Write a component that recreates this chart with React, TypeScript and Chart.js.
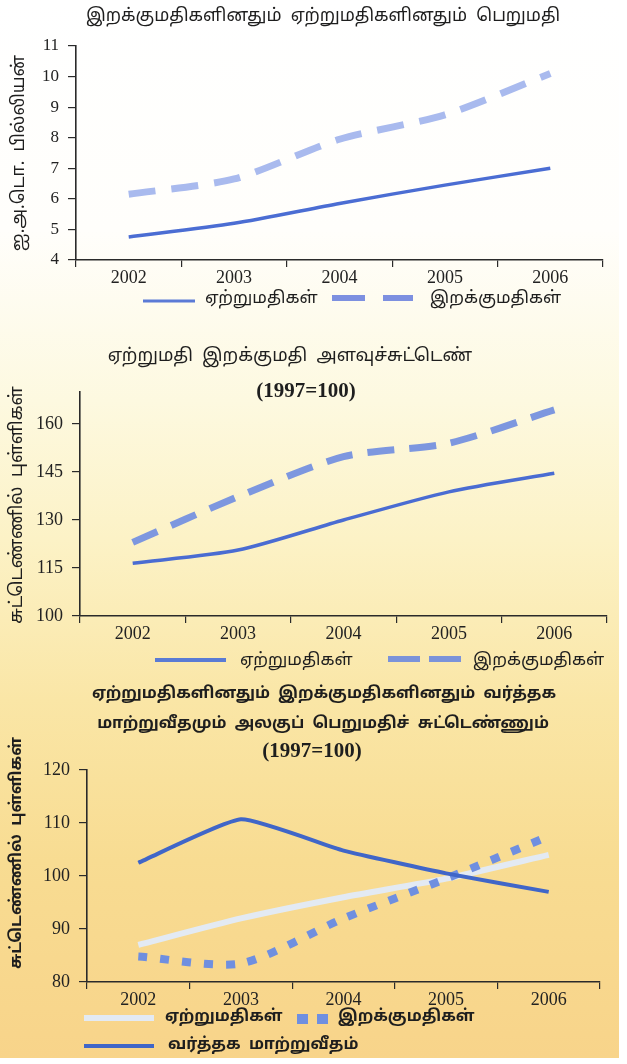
import React, { useEffect, useRef } from 'react';
import { Chart, registerables } from 'chart.js';

Chart.register(...registerables);

// ---------- data ----------
const years = ['2002', '2003', '2004', '2005', '2006'];

// Chart 1: value of imports and exports (US$ billion)
const valueExports = [4.75, 5.2, 5.85, 6.45, 7.0];
const valueImports = [6.15, 6.65, 7.95, 8.75, 10.1];
const valueTicks = [4, 5, 6, 7, 8, 9, 10, 11];

// Chart 2: export / import volume index (1997=100)
const volumeExports = [116.5, 120.6, 130, 138.8, 144.6];
const volumeImports = [123, 137.3, 149.8, 154, 164.4];
const volumeTicks = [100, 115, 130, 145, 160];

// Chart 3: unit value indices and terms of trade (1997=100)
const unitExports = [87, 92, 96, 99.5, 104];
const unitImports = [84.8, 83.5, 92, 99.5, 107.5];
const termsOfTrade = [102.5, 110.7, 104.8, 100.5, 97];
const unitTicks = [80, 90, 100, 110, 120];

const labelExports = 'ஏற்றுமதிகள்';
const labelImports = 'இறக்குமதிகள்';
const labelTerms = 'வர்த்தக  மாற்றுவீதம்';

const TAMIL = "'Noto Sans Tamil', 'Lohit Tamil', 'Noto Sans', sans-serif";
const SERIF = "'Liberation Serif', 'Times New Roman', serif";
const W = 627;

type Txt = { text: string; x: number; y: number; font: string };
type LegendItem = {
  index: number; x0: number; x1: number; y: number; textX: number; textY?: number;
  width?: number; dash?: number[]; color?: string;
};
type Decor = { titles: Txt[]; yTitle: Txt; legend: LegendItem[]; legendFont: string };

function makeDecor(cfg: Decor) {
  return {
    id: 'decor',
    afterDraw(chart: any) {
      const ctx = chart.ctx as CanvasRenderingContext2D;
      ctx.save();
      ctx.fillStyle = '#1e1e1e';
      ctx.textBaseline = 'middle';
      ctx.textAlign = 'center';
      cfg.titles.forEach((t) => {
        ctx.font = t.font;
        ctx.fillText(t.text, t.x, t.y);
      });
      ctx.save();
      ctx.translate(cfg.yTitle.x, cfg.yTitle.y);
      ctx.rotate(-Math.PI / 2);
      ctx.font = cfg.yTitle.font;
      ctx.fillText(cfg.yTitle.text, 0, 0);
      ctx.restore();
      cfg.legend.forEach((it) => {
        const ds = chart.data.datasets[it.index];
        ctx.save();
        ctx.strokeStyle = it.color || ds.borderColor;
        ctx.lineWidth = it.width || ds.borderWidth;
        ctx.setLineDash(it.dash || ds.borderDash || []);
        ctx.lineCap = 'butt';
        ctx.beginPath();
        ctx.moveTo(it.x0, it.y);
        ctx.lineTo(it.x1, it.y);
        ctx.stroke();
        ctx.restore();
        ctx.font = cfg.legendFont;
        ctx.textAlign = 'left';
        ctx.fillText(ds.label, it.textX, it.textY ?? it.y);
      });
      ctx.restore();
    },
  };
}

type Spec = {
  height: number;
  area: { left: number; right: number; top: number; bottom: number };
  xHeight: number;
  min: number; max: number; ticks: number[];
  tickFont: number;
  datasets: any[];
  decor: Decor;
};

function buildConfig(spec: Spec): any {
  const axisColor = '#2a2a2a';
  return {
    type: 'line',
    data: { labels: years, datasets: spec.datasets },
    options: {
      responsive: false,
      animation: false,
      devicePixelRatio: 1,
      layout: {
        padding: {
          left: 0,
          top: spec.area.top,
          right: W - spec.area.right,
          bottom: spec.height - spec.area.bottom - spec.xHeight,
        },
      },
      elements: { point: { radius: 0 } },
      plugins: { legend: { display: false }, title: { display: false }, tooltip: { enabled: false } },
      scales: {
        x: {
          offset: true,
          grid: { offset: true, drawOnChartArea: false, drawTicks: true, tickLength: 7, color: axisColor, lineWidth: 1.2 },
          border: { display: true, color: axisColor, width: 1.6 },
          ticks: { font: { family: SERIF, size: 18 }, color: '#222', padding: 0, maxRotation: 0 },
          afterFit: (s: any) => { s.height = spec.xHeight; },
        },
        y: {
          min: spec.min,
          max: spec.max,
          afterBuildTicks: (s: any) => { s.ticks = spec.ticks.map((v) => ({ value: v })); },
          grid: { drawOnChartArea: false, drawTicks: true, tickLength: 8, color: axisColor, lineWidth: 1.2 },
          border: { display: true, color: axisColor, width: 1.6 },
          ticks: { font: { family: SERIF, size: spec.tickFont }, color: '#222', padding: 9 },
          afterFit: (s: any) => { s.width = spec.area.left; },
        },
      },
    },
    plugins: [makeDecor(spec.decor)],
  };
}

const spec1: Spec = {
  height: 330,
  area: { left: 76, right: 603, top: 46, bottom: 260 },
  xHeight: 30,
  min: 4, max: 11, ticks: valueTicks, tickFont: 17,
  datasets: [
    { label: labelExports, data: valueExports, borderColor: '#4b6dd3', borderWidth: 3.5, tension: 0.25, fill: false },
    { label: labelImports, data: valueImports, borderColor: '#a9baee', borderWidth: 7, borderDash: [27, 16], tension: 0.25, fill: false },
  ],
  decor: {
    titles: [{ text: 'இறக்குமதிகளினதும்  ஏற்றுமதிகளினதும்  பெறுமதி', x: 323, y: 17, font: `17.6px ${TAMIL}` }],
    yTitle: { text: 'ஐ.அ.டொ.  பில்லியன்', x: 20, y: 153, font: `17.5px ${TAMIL}` },
    legendFont: `17px ${TAMIL}`,
    legend: [
      { index: 0, x0: 143, x1: 195, y: 301, textX: 205, textY: 300, width: 3, color: '#5b7ad6' },
      { index: 1, x0: 332, x1: 413, y: 298, textX: 430, textY: 300, width: 6, dash: [33, 18], color: '#7d90e0' },
    ],
  },
};

const spec2: Spec = {
  height: 350,
  area: { left: 80, right: 607, top: 62, bottom: 286 },
  xHeight: 30,
  min: 100, max: 170, ticks: volumeTicks, tickFont: 18,
  datasets: [
    { label: labelExports, data: volumeExports, borderColor: '#4a6cd2', borderWidth: 3.5, tension: 0.25, fill: false },
    { label: labelImports, data: volumeImports, borderColor: '#7d97df', borderWidth: 7, borderDash: [27, 15], tension: 0.25, fill: false },
  ],
  decor: {
    titles: [
      { text: 'ஏற்றுமதி  இறக்குமதி  அளவுச்சுட்டெண்', x: 290, y: 27, font: `18px ${TAMIL}` },
      { text: '(1997=100)', x: 306, y: 62, font: `bold 21px ${SERIF}` },
    ],
    yTitle: { text: 'சுட்டெண்ணில்  புள்ளிகள்', x: 18, y: 175, font: `18px ${TAMIL}` },
    legendFont: `17px ${TAMIL}`,
    legend: [
      { index: 0, x0: 155, x1: 226, y: 330, textX: 240, textY: 332, width: 4, color: '#5a7bd4' },
      { index: 1, x0: 388, x1: 462, y: 329, textX: 473, textY: 332, width: 6, dash: [32, 9], color: '#7b93d9' },
    ],
  },
};

const spec3: Spec = {
  height: 384,
  area: { left: 87, right: 600, top: 90, bottom: 302 },
  xHeight: 28,
  min: 80, max: 120, ticks: unitTicks, tickFont: 18,
  datasets: [
    { label: labelExports, data: unitExports, borderColor: '#e3eaf3', borderWidth: 6, tension: 0.2, fill: false, order: 2 },
    { label: labelImports, data: unitImports, borderColor: '#6f8fe0', borderWidth: 8, borderDash: [9, 13], tension: 0.25, fill: false, order: 1 },
    { label: labelTerms, data: termsOfTrade, borderColor: '#4066c8', borderWidth: 4, tension: 0.15, fill: false, order: 0 },
  ],
  decor: {
    titles: [
      { text: 'ஏற்றுமதிகளினதும்  இறக்குமதிகளினதும்  வர்த்தக', x: 324, y: 15, font: `bold 16px ${TAMIL}` },
      { text: 'மாற்றுவீதமும்  அலகுப்  பெறுமதிச்  சுட்டெண்ணும்', x: 323, y: 45, font: `bold 16px ${TAMIL}` },
      { text: '(1997=100)', x: 312, y: 72, font: `bold 21px ${SERIF}` },
    ],
    yTitle: { text: 'சுட்டெண்ணில்  புள்ளிகள்', x: 18, y: 173, font: `bold 16px ${TAMIL}` },
    legendFont: `bold 16px ${TAMIL}`,
    legend: [
      { index: 0, x0: 84, x1: 154, y: 338, textX: 165, textY: 338, width: 6 },
      { index: 1, x0: 297, x1: 328, y: 339, textX: 338, textY: 338, width: 10, dash: [11, 9] },
      { index: 2, x0: 84, x1: 154, y: 366, textX: 168, textY: 366, width: 4 },
    ],
  },
};

function LineChart({ spec, top }: { spec: Spec; top: number }) {
  const ref = useRef<HTMLCanvasElement | null>(null);
  useEffect(() => {
    if (!ref.current) return;
    const chart = new Chart(ref.current, buildConfig(spec));
    return () => chart.destroy();
  }, [spec]);
  return (
    <canvas
      ref={ref}
      width={W}
      height={spec.height}
      style={{ position: 'absolute', left: 0, top, width: W, height: spec.height }}
    />
  );
}

export default function App() {
  return (
    <div
      style={{
        position: 'absolute',
        left: 0,
        top: 0,
        width: W,
        height: 1064,
        overflow: 'hidden',
        background:
          'linear-gradient(180deg, #ffffff 0px, #fffefb 230px, #fdf9e0 400px, #fcf2c6 540px, #fae6a6 700px, #f8dc92 860px, #f8d48a 1058px)',
      }}
    >
      <div style={{ position: 'absolute', left: 619, top: 0, width: 8, height: 1064, background: '#ffffff' }} />
      <div style={{ position: 'absolute', left: 0, top: 1058, width: W, height: 6, background: '#ffffff' }} />
      <LineChart spec={spec1} top={0} />
      <LineChart spec={spec2} top={330} />
      <LineChart spec={spec3} top={680} />
    </div>
  );
}
